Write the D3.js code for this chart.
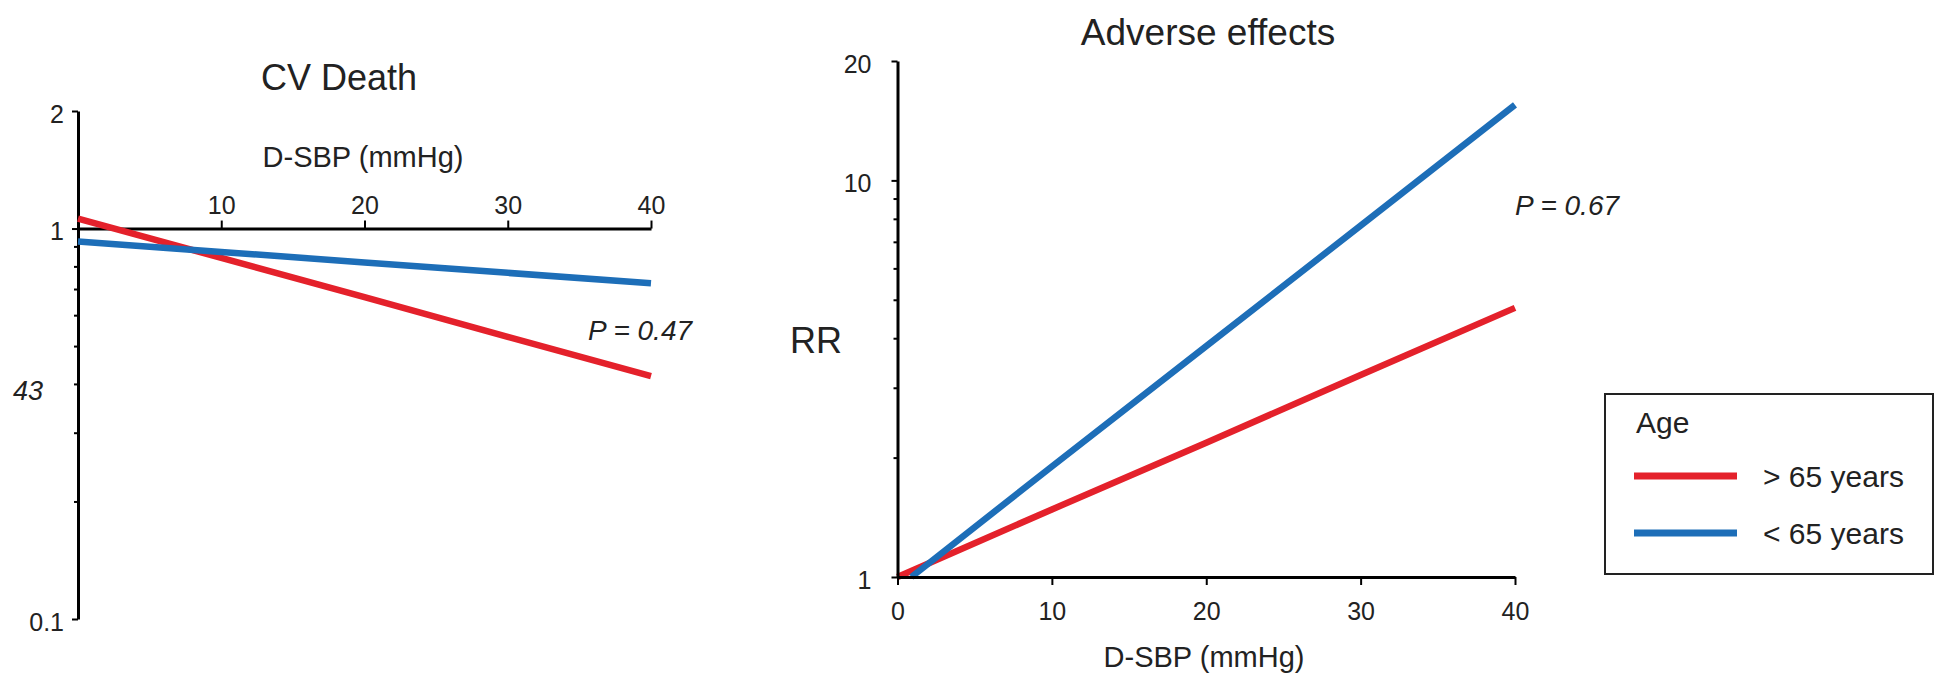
<!DOCTYPE html>
<html>
<head>
<meta charset="utf-8">
<script src="https://cdn.jsdelivr.net/npm/d3@7"></script>
<style>
  html, body { margin: 0; padding: 0; background: #fff; }
  svg { display: block; font-family: "Liberation Sans", Arial, sans-serif; }
  .axis path, .axis line { stroke: #000; }
  .axis text { fill: #222; font-size: 25px; font-family: "Liberation Sans", Arial, sans-serif; }
</style>
</head>
<body>
<svg id="chart" width="1936" height="676"></svg>
<script>
// Systolic BP reduction (mmHg) at which the fitted relative risks are read
const dsbp = [0, 10, 20, 30, 40];

// CV death: relative risk by age group
const cvOlder   = [1.06, 0.841, 0.667, 0.528, 0.419];
const cvYounger = [0.926, 0.871, 0.819, 0.770, 0.724];

// Adverse effects: relative risk by age group
const aeOlder     = [1.0, 1.48, 2.18, 3.23, 4.77];
const aeYoungerX  = [0.9, 10, 20, 30, 40];
const aeYounger   = [1.0, 1.90, 3.82, 7.69, 15.5];

// Axis ticks
const xTicksCv   = [10, 20, 30, 40];
const xTicksAe   = [0, 10, 20, 30, 40];
const yMajorCv   = [0.1, 1, 2];
const yMinorCv   = [0.2, 0.3, 0.4, 0.5, 0.6, 0.7, 0.8, 0.9];
const yMajorAe   = [1, 10, 20];
const yMinorAe   = [2, 3, 4, 5, 6, 7, 8, 9];

const groups = ["> 65 years", "< 65 years"];
const colors = ["#e4212b", "#1d6eb8"];

const svg = d3.select("#chart");

function drawYAxis(g, scale, major, minor, pad) {
  g.append("g").attr("class", "axis")
    .call(d3.axisLeft(scale).tickValues(minor).tickSize(4).tickFormat(""))
    .call(s => s.select(".domain").remove())
    .selectAll("line").attr("stroke-width", 2);
  const a = g.append("g").attr("class", "axis")
    .call(d3.axisLeft(scale).tickValues(major).tickSize(6).tickSizeOuter(0)
      .tickPadding(pad).tickFormat(d => String(d)));
  a.select(".domain").attr("stroke-width", 3);
  a.selectAll("line").attr("stroke-width", 2);
  a.selectAll("text").attr("dy", "0.44em");
}

function drawLines(g, x, y, series) {
  const line = d3.line().x(d => x(d[0])).y(d => y(d[1]));
  series.forEach((s, i) => {
    g.append("path")
      .datum(s)
      .attr("d", line)
      .attr("fill", "none")
      .attr("stroke", colors[i])
      .attr("stroke-width", 6.5)
      .attr("stroke-linecap", "butt");
  });
}

// ---------- Left panel: CV Death ----------
{
  const x = d3.scaleLinear().domain([0, 40]).range([78, 651]);
  const y = d3.scaleLog().domain([0.1, 2]).range([619, 111]);
  const g = svg.append("g");

  const xa = g.append("g").attr("class", "axis")
    .attr("transform", `translate(0,${y(1)})`)
    .call(d3.axisTop(x).tickValues(xTicksCv).tickSize(8).tickSizeOuter(0).tickPadding(7));
  xa.select(".domain").attr("stroke-width", 3);
  xa.selectAll("line").attr("stroke-width", 2);

  drawYAxis(g.append("g").attr("transform", `translate(${x(0)},0)`), y, yMajorCv, yMinorCv, 8);

  g.append("text").attr("x", 13).attr("y", 400)
    .attr("font-size", 27).attr("font-style", "italic").attr("fill", "#222")
    .text("43");

  drawLines(g, x, y, [
    dsbp.map((d, i) => [d, cvOlder[i]]),
    dsbp.map((d, i) => [d, cvYounger[i]])
  ]);

  g.append("text").attr("x", 339).attr("y", 90).attr("text-anchor", "middle")
    .attr("font-size", 36).attr("fill", "#222").text("CV Death");
  g.append("text").attr("x", 363).attr("y", 167).attr("text-anchor", "middle")
    .attr("font-size", 29).attr("fill", "#222").text("D-SBP (mmHg)");
  g.append("text").attr("x", 588).attr("y", 340)
    .attr("font-size", 28).attr("font-style", "italic").attr("fill", "#222")
    .text("P = 0.47");
}

// ---------- Right panel: Adverse effects ----------
{
  const x = d3.scaleLinear().domain([0, 40]).range([897.5, 1515]);
  const y = d3.scaleLog().domain([1, 20]).range([577, 61]);
  const g = svg.append("g");

  drawLines(g, x, y, [
    dsbp.map((d, i) => [d, aeOlder[i]]),
    aeYoungerX.map((d, i) => [d, aeYounger[i]])
  ]);

  const xa = g.append("g").attr("class", "axis")
    .attr("transform", `translate(0,${y(1)})`)
    .call(d3.axisBottom(x).tickValues(xTicksAe).tickSize(8).tickSizeOuter(0).tickPadding(17));
  xa.select(".domain").attr("stroke-width", 3);
  xa.selectAll("line").attr("stroke-width", 2);

  drawYAxis(g.append("g").attr("transform", `translate(${x(0)},0)`), y, yMajorAe, yMinorAe, 20);

  g.append("text").attr("x", 1208).attr("y", 45).attr("text-anchor", "middle")
    .attr("font-size", 37).attr("fill", "#222").text("Adverse effects");
  g.append("text").attr("x", 1204).attr("y", 667).attr("text-anchor", "middle")
    .attr("font-size", 29).attr("fill", "#222").text("D-SBP (mmHg)");
  g.append("text").attr("x", 790).attr("y", 353)
    .attr("font-size", 36).attr("fill", "#222").text("RR");
  g.append("text").attr("x", 1515).attr("y", 215)
    .attr("font-size", 28).attr("font-style", "italic").attr("fill", "#222")
    .text("P = 0.67");
}

// ---------- Legend ----------
{
  const lg = svg.append("g").attr("transform", "translate(1605,394)");
  lg.append("rect").attr("x", 0).attr("y", 0).attr("width", 328).attr("height", 180)
    .attr("fill", "#fff").attr("stroke", "#222").attr("stroke-width", 2);
  lg.append("text").attr("x", 31).attr("y", 39)
    .attr("font-size", 30).attr("fill", "#222").text("Age");
  const rows = lg.selectAll("g.row").data(groups).join("g")
    .attr("class", "row")
    .attr("transform", (d, i) => `translate(0,${82 + i * 57})`);
  rows.append("line").attr("x1", 29).attr("x2", 132).attr("y1", 0).attr("y2", 0)
    .attr("stroke", (d, i) => colors[i]).attr("stroke-width", 7);
  rows.append("text").attr("x", 158).attr("y", 11)
    .attr("font-size", 30).attr("fill", "#222").text(d => d);
}
</script>
</body>
</html>
